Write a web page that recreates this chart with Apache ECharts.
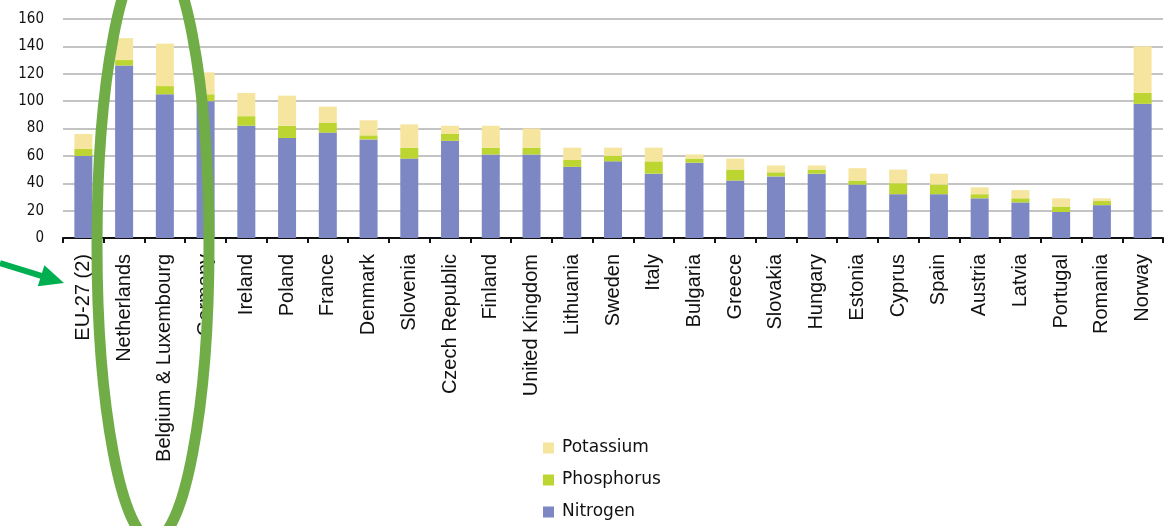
<!DOCTYPE html>
<html>
<head>
<meta charset="utf-8">
<title>Fertiliser use by nutrient</title>
<script src="https://cdn.jsdelivr.net/npm/echarts@6/dist/echarts.min.js"></script>
<style>
  html, body { margin: 0; padding: 0; background: #ffffff; }
  #chart { width: 1171px; height: 526px; }
</style>
</head>
<body>
<div id="chart"></div>
<script>
// Countries, in the order they are plotted
const categories = [
  'EU-27 (2)', 'Netherlands', 'Belgium & Luxembourg', 'Germany', 'Ireland',
  'Poland', 'France', 'Denmark', 'Slovenia', 'Czech Republic', 'Finland',
  'United Kingdom', 'Lithuania', 'Sweden', 'Italy', 'Bulgaria', 'Greece',
  'Slovakia', 'Hungary', 'Estonia', 'Cyprus', 'Spain', 'Austria', 'Latvia',
  'Portugal', 'Romania', 'Norway'
];

// Nutrient amounts per country (stacked: nitrogen, phosphorus, potassium)
const nitrogen   = [60, 126, 105, 100, 82, 73, 77, 72, 58, 71, 61, 61, 52, 56, 47, 55, 42, 45, 47, 39, 32, 32, 29, 26, 19, 24, 98];
const phosphorus = [ 5,   4,   6,   5,  7,  9,  7,  3,  8,  5,  5,  5,  5,  4,  9,  3,  8,  3,  3,  3,  8,  7,  3,  3,  4,  3,  8];
const potassium  = [11,  16,  31,  16, 17, 22, 12, 11, 17,  6, 16, 14,  9,  6, 10,  3,  8,  5,  3,  9, 10,  8,  5,  6,  6,  2, 34];

const legendOrder = ['Potassium', 'Phosphorus', 'Nitrogen'];
const yTicks = { min: 0, max: 160, interval: 20 };

const colors = {
  Nitrogen: '#7c87c4',
  Phosphorus: '#bdd531',
  Potassium: '#f5e59e'
};

const chart = echarts.init(document.getElementById('chart'), null, { renderer: 'canvas' });

function barSeries(name, values) {
  return {
    name: name,
    type: 'bar',
    stack: 'total',
    barWidth: 18,
    data: values,
    itemStyle: { color: colors[name] },
    emphasis: { disabled: true }
  };
}

// Green highlight ellipse and pointer arrow drawn over the chart
const highlight = '#70ad47';
const arrowGreen = '#00b050';

chart.setOption({
  animation: false,
  backgroundColor: '#ffffff',
  grid: { left: 63, right: 8, top: 19, bottom: 288, containLabel: false },
  legend: {
    orient: 'vertical',
    left: 543,
    top: 438,
    height: 88,
    padding: 0,
    itemWidth: 11,
    itemHeight: 11,
    itemGap: 12,
    icon: 'rect',
    data: legendOrder,
    textStyle: {
      fontFamily: 'DejaVu Sans, sans-serif',
      fontSize: 17,
      lineHeight: 20,
      color: '#111111',
      padding: [0, 0, 0, 3]
    },
    selectedMode: false
  },
  xAxis: {
    type: 'category',
    data: categories,
    boundaryGap: true,
    axisLine: { show: true, lineStyle: { color: '#111111', width: 2 } },
    axisTick: { show: true, length: 5, lineStyle: { color: '#111111', width: 2 } },
    axisLabel: {
      interval: 0,
      rotate: 90,
      margin: 16,
      fontFamily: 'Liberation Sans, Arial, sans-serif',
      fontSize: 20,
      color: '#111111'
    },
    splitLine: { show: false }
  },
  yAxis: {
    type: 'value',
    min: yTicks.min,
    max: yTicks.max,
    interval: yTicks.interval,
    axisLine: { show: false },
    axisTick: { show: false },
    axisLabel: {
      margin: 19,
      fontFamily: '"Liberation Sans Narrow", "DejaVu Sans Condensed", sans-serif',
      fontSize: 15,
      color: '#111111'
    },
    splitLine: { show: true, lineStyle: { color: '#c4c4c4', width: 2 } }
  },
  series: [
    barSeries('Nitrogen', nitrogen),
    barSeries('Phosphorus', phosphorus),
    barSeries('Potassium', potassium)
  ],
  graphic: [
    {
      type: 'ellipse',
      z: 100,
      silent: true,
      shape: { cx: 153, cy: 245, rx: 56, ry: 295 },
      style: { fill: 'none', stroke: highlight, lineWidth: 11 }
    },
    {
      type: 'line',
      z: 100,
      silent: true,
      shape: { x1: 0, y1: 263, x2: 43, y2: 276.4 },
      style: { stroke: arrowGreen, lineWidth: 6 }
    },
    {
      type: 'polygon',
      z: 100,
      silent: true,
      shape: { points: [[64, 283], [44.4, 265.3], [37.8, 286.3]] },
      style: { fill: arrowGreen }
    }
  ]
});
</script>
</body>
</html>
